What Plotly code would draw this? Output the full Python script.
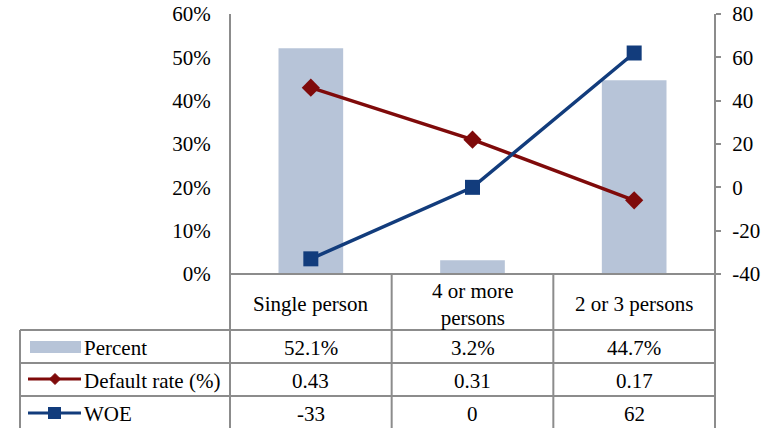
import plotly.graph_objects as go

# Household size segments
categories = ["Single person", "4 or more<br>persons", "2 or 3 persons"]
percent = [0.521, 0.032, 0.447]          # share of population
default_rate = [0.43, 0.31, 0.17]        # default rate (%), plotted on the left axis as a fraction
woe = [-33, 0, 62]                       # weight of evidence, right axis

percent_labels = ["52.1%", "3.2%", "44.7%"]
default_labels = ["0.43", "0.31", "0.17"]
woe_labels = ["-33", "0", "62"]

left_ticks = [0, 0.1, 0.2, 0.3, 0.4, 0.5, 0.6]
left_ticktext = ["0%", "10%", "20%", "30%", "40%", "50%", "60%"]
right_ticks = [-40, -20, 0, 20, 40, 60, 80]
right_ticktext = ["-40", "-20", "0", "20", "40", "60", "80"]

BAR = "#B7C4D8"
RED = "#7F0A0A"
BLUE = "#123C7C"
GRID = "#8C8C8C"
FONT = "Liberation Serif"
FS = 21

W_FIG, H_FIG = 781, 428
L, R, T, B = 230, 715, 14, 274
PW, PH = R - L, B - T

def px(x):
    return (x - L) / PW

def py(y):
    return (B - y) / PH

n = len(categories)
x_idx = list(range(n))
x_range = [-0.5, n - 0.5]

def cat_paper(v):
    return (v - x_range[0]) / (x_range[1] - x_range[0])

fig = go.Figure()
fig.add_trace(go.Bar(x=x_idx, y=percent, width=0.4, marker=dict(color=BAR, line=dict(width=0)),
                     name="Percent", yaxis="y"))
fig.add_trace(go.Scatter(x=x_idx, y=default_rate, mode="lines+markers", name="Default rate (%)",
                         line=dict(color=RED, width=3.5),
                         marker=dict(symbol="diamond", size=14, color=RED), yaxis="y"))
fig.add_trace(go.Scatter(x=x_idx, y=woe, mode="lines+markers", name="WOE",
                         line=dict(color=BLUE, width=3.5),
                         marker=dict(symbol="square", size=15, color=BLUE), yaxis="y2"))

shapes = []
def hline(x0, x1, y):
    shapes.append(dict(type="line", xref="paper", yref="paper", x0=x0, x1=x1, y0=y, y1=y,
                       line=dict(color=GRID, width=2)))
def vline(x, y0, y1):
    shapes.append(dict(type="line", xref="paper", yref="paper", x0=x, x1=x, y0=y0, y1=y1,
                       line=dict(color=GRID, width=2)))

bottom = py(H_FIG + 2)
row_lines = [330, 363, 396]
left_edge = px(20)

# axis lines running down through the table
vline(0, bottom, 1)
vline(1, bottom, 1)
hline(0, 1, 0)
# column borders between categories
for i in range(n - 1):
    vline(cat_paper(i + 0.5), bottom, 0)
# row borders
for yy in row_lines:
    hline(left_edge, 1, py(yy))
vline(left_edge, bottom, py(row_lines[0]))

# legend keys inside the table
shapes.append(dict(type="rect", xref="paper", yref="paper", x0=px(30), x1=px(81),
                   y0=py(353), y1=py(341), fillcolor=BAR, line=dict(width=0)))
shapes.append(dict(type="line", xref="paper", yref="paper", x0=px(28), x1=px(81),
                   y0=py(379), y1=py(379), line=dict(color=RED, width=3)))
cx, cy, r = 55, 379, 5.5
shapes.append(dict(type="path", xref="paper", yref="paper",
                   path=f"M {px(cx-r)} {py(cy)} L {px(cx)} {py(cy-r)} L {px(cx+r)} {py(cy)} L {px(cx)} {py(cy+r)} Z",
                   fillcolor=RED, line=dict(color=RED, width=1)))
shapes.append(dict(type="line", xref="paper", yref="paper", x0=px(28), x1=px(81),
                   y0=py(413), y1=py(413), line=dict(color=BLUE, width=3)))
shapes.append(dict(type="rect", xref="paper", yref="paper", x0=px(48), x1=px(61),
                   y0=py(419), y1=py(407), fillcolor=BLUE, line=dict(width=0)))

ann = []
def text(x, y, s, xref="x", xanchor="center"):
    ann.append(dict(x=x, y=py(y), xref=xref, yref="paper", text=s, showarrow=False,
                    xanchor=xanchor, yanchor="middle", font=dict(family=FONT, size=FS, color="black")))

row_y = {"cat": 304, "pct": 348, "def": 381, "woe": 414}
for i in x_idx:
    text(i, row_y["cat"], categories[i])
    text(i, row_y["pct"], percent_labels[i])
    text(i, row_y["def"], default_labels[i])
    text(i, row_y["woe"], woe_labels[i])
text(px(82), row_y["pct"], "Percent", xref="paper", xanchor="left")
text(px(82), row_y["def"], "Default rate (%)", xref="paper", xanchor="left")
text(px(82), row_y["woe"], "WOE", xref="paper", xanchor="left")

fig.update_layout(
    width=W_FIG, height=H_FIG,
    margin=dict(l=L, r=W_FIG - R, t=T, b=H_FIG - B, autoexpand=False),
    paper_bgcolor="white", plot_bgcolor="white",
    showlegend=False,
    font=dict(family=FONT, size=FS, color="black"),
    xaxis=dict(range=x_range, showticklabels=False, showgrid=False, zeroline=False,
               showline=False, ticks="", automargin=False),
    yaxis=dict(range=[0, 0.6], tickvals=left_ticks, ticktext=left_ticktext, showgrid=False,
               zeroline=False, showline=False, ticks="outside", ticklen=14,
               tickcolor="rgba(0,0,0,0)", automargin=False,
               tickfont=dict(family=FONT, size=FS)),
    yaxis2=dict(range=[-40, 80], tickvals=right_ticks, ticktext=right_ticktext, overlaying="y",
                side="right", showgrid=False, zeroline=False, showline=False, ticks="outside",
                ticklen=5, tickwidth=2, tickcolor=GRID, ticklabelstandoff=7, automargin=False,
                tickfont=dict(family=FONT, size=FS)),
    shapes=shapes, annotations=ann,
)

fig.write_html("out.html")
